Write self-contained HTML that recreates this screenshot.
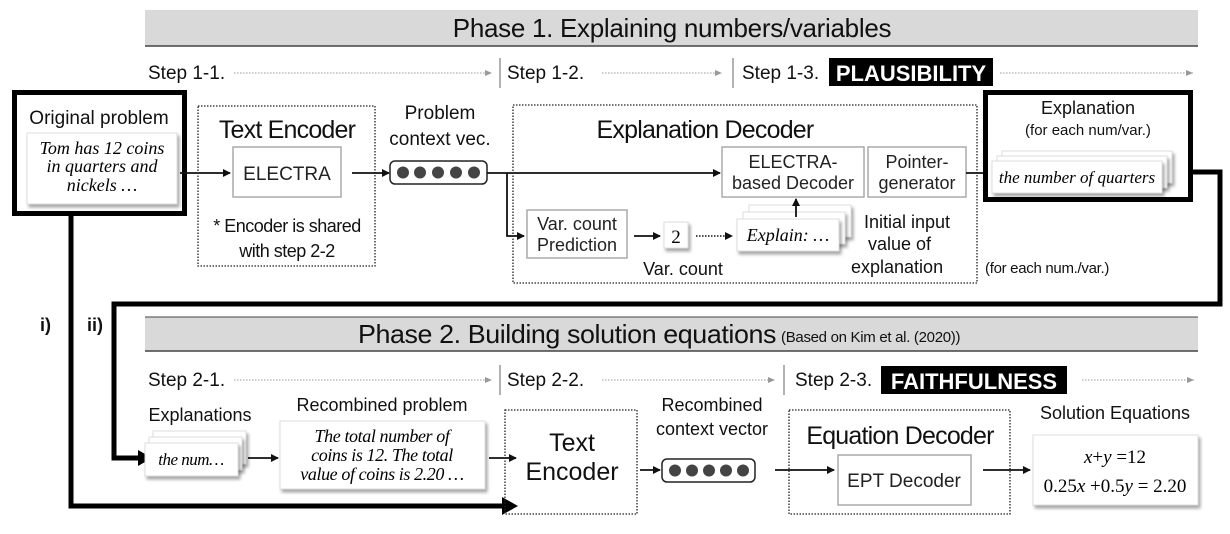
<!DOCTYPE html>
<html><head><meta charset="utf-8"><style>
html,body{margin:0;padding:0;background:#fff;}
svg{display:block;font-family:"Liberation Sans","NanumGothic",sans-serif;}
.s{font-family:"Liberation Serif",serif;font-style:italic;}
</style></head><body>
<svg width="1230" height="534" viewBox="0 0 1230 534" xmlns="http://www.w3.org/2000/svg">
<defs>
<marker id="a" markerWidth="8" markerHeight="8" refX="7" refY="4" orient="auto" markerUnits="userSpaceOnUse"><path d="M0,0 L8,4 L0,8 z" fill="#111"/></marker>
<marker id="g" markerWidth="8" markerHeight="8" refX="7" refY="4" orient="auto" markerUnits="userSpaceOnUse"><path d="M0,1 L7,4 L0,7 z" fill="#999"/></marker>
<filter id="sh" x="-10%" y="-10%" width="130%" height="140%"><feDropShadow dx="2" dy="3" stdDeviation="1.5" flood-color="#000" flood-opacity="0.35"/></filter>
</defs>

<!-- Phase 1 banner -->
<rect x="145" y="10" width="1053" height="36" fill="#d9d9d9"/>
<line x1="145" y1="46" x2="1198" y2="46" stroke="#444" stroke-width="1.5"/>
<text x="672" y="37" font-size="26" text-anchor="middle" fill="#111" letter-spacing="-0.3">Phase 1. Explaining numbers/variables</text>

<!-- Step row 1 -->
<text x="148" y="79" font-size="19" fill="#111">Step 1-1.</text>
<line x1="234" y1="73" x2="492" y2="73" stroke="#999" stroke-dasharray="1.5,1.5" marker-end="url(#g)"/>
<line x1="500" y1="58" x2="500" y2="88" stroke="#666"/>
<text x="507" y="79" font-size="19" fill="#111">Step 1-2.</text>
<line x1="602" y1="73" x2="722" y2="73" stroke="#999" stroke-dasharray="1.5,1.5" marker-end="url(#g)"/>
<line x1="733" y1="58" x2="733" y2="88" stroke="#666"/>
<text x="742" y="79" font-size="19" fill="#111">Step 1-3.</text>
<rect x="829" y="58" width="164" height="28" fill="#000"/>
<text x="911" y="81" font-size="22" font-weight="bold" fill="#fff" text-anchor="middle">PLAUSIBILITY</text>
<line x1="1000" y1="73" x2="1193" y2="73" stroke="#999" stroke-dasharray="1.5,1.5" marker-end="url(#g)"/>

<!-- Original problem -->
<rect x="14.5" y="92.5" width="170" height="121" fill="#fff" stroke="#000" stroke-width="5"/>
<text x="99" y="124" font-size="19" text-anchor="middle" fill="#111">Original problem</text>
<rect x="27" y="133" width="150" height="71" fill="#fff" stroke="#ddd" filter="url(#sh)"/>
<text class="s" x="102" y="154" font-size="18" text-anchor="middle">Tom has 12 coins</text>
<text class="s" x="102" y="172" font-size="18" text-anchor="middle">in quarters and</text>
<text class="s" x="102" y="191" font-size="18" text-anchor="middle">nickels …</text>
<line x1="180" y1="173" x2="230" y2="173" stroke="#111" stroke-width="1.8" marker-end="url(#a)"/>

<!-- Text Encoder 1 -->
<rect x="198" y="106" width="177" height="160" fill="none" stroke="#222" stroke-dasharray="1.5,1.5" stroke-width="1.3"/>
<text x="287" y="138" font-size="25" text-anchor="middle" fill="#111" letter-spacing="-0.8">Text Encoder</text>
<rect x="233" y="147" width="108" height="50" fill="#fff" stroke="#aaa" stroke-width="1.5"/>
<text x="287" y="180" font-size="19" text-anchor="middle" fill="#222">ELECTRA</text>
<text x="287" y="232" font-size="18" text-anchor="middle" fill="#111" letter-spacing="-0.5">* Encoder is shared</text>
<text x="287" y="257" font-size="18" text-anchor="middle" fill="#111" letter-spacing="-0.5">with step 2-2</text>
<line x1="352" y1="173" x2="389" y2="173" stroke="#111" stroke-width="1.8" marker-end="url(#a)"/>

<!-- context vec -->
<text x="440" y="119" font-size="19" text-anchor="middle" fill="#111">Problem</text>
<text x="440" y="145" font-size="19" text-anchor="middle" fill="#111">context vec.</text>
<rect x="390" y="161" width="97" height="23" rx="5" fill="#fff" stroke="#222" stroke-width="1.5"/>
<g fill="#444"><circle cx="403" cy="172.5" r="6"/><circle cx="420" cy="172.5" r="6"/><circle cx="438" cy="172.5" r="6"/><circle cx="456" cy="172.5" r="6"/><circle cx="474" cy="172.5" r="6"/></g>
<line x1="487" y1="173" x2="720" y2="173" stroke="#111" stroke-width="1.8" marker-end="url(#a)"/>
<polyline points="507,173 507,236 524,236" fill="none" stroke="#111" stroke-width="1.8" marker-end="url(#a)"/>

<!-- Explanation Decoder -->
<rect x="513" y="105" width="464" height="178" fill="none" stroke="#222" stroke-dasharray="1.5,1.5" stroke-width="1.3"/>
<text x="705" y="138" font-size="25" text-anchor="middle" fill="#111" letter-spacing="-0.8">Explanation Decoder</text>
<rect x="722" y="147" width="142" height="50" fill="#fff" stroke="#aaa" stroke-width="1.5"/>
<text x="793" y="168" font-size="18" text-anchor="middle" fill="#222">ELECTRA-</text>
<text x="793" y="189" font-size="18" text-anchor="middle" fill="#222">based Decoder</text>
<rect x="868" y="147" width="98" height="50" fill="#fff" stroke="#aaa" stroke-width="1.5"/>
<text x="917" y="168" font-size="18" text-anchor="middle" fill="#222">Pointer-</text>
<text x="917" y="189" font-size="18" text-anchor="middle" fill="#222">generator</text>
<line x1="966" y1="173" x2="990" y2="173" stroke="#111" stroke-width="1.8" marker-end="url(#a)"/>

<rect x="527" y="210" width="100" height="48" fill="#fff" stroke="#aaa" stroke-width="1.5"/>
<text x="577" y="230" font-size="18" text-anchor="middle" fill="#222">Var. count</text>
<text x="577" y="251" font-size="18" text-anchor="middle" fill="#222">Prediction</text>
<line x1="634" y1="236" x2="660" y2="236" stroke="#111" stroke-width="1.8" marker-end="url(#a)"/>
<rect x="664" y="222" width="24" height="26" fill="#fff" stroke="#ddd" filter="url(#sh)"/>
<text x="676" y="243" font-size="19" text-anchor="middle" font-family="Liberation Serif,serif">2</text>
<line x1="696" y1="236" x2="732" y2="236" stroke="#111" stroke-width="1.5" stroke-dasharray="1.5,1.5" marker-end="url(#a)"/>
<text x="683" y="275" font-size="18" text-anchor="middle" fill="#111">Var. count</text>
<rect x="749" y="205" width="102" height="32" fill="#fff" stroke="#ddd" filter="url(#sh)"/>
<rect x="743" y="212" width="102" height="32" fill="#fff" stroke="#ddd" filter="url(#sh)"/>
<rect x="737" y="219" width="102" height="32" fill="#fff" stroke="#ddd" filter="url(#sh)"/>
<text class="s" x="788" y="241" font-size="18" text-anchor="middle">Explain: …</text>
<line x1="796" y1="217" x2="796" y2="199" stroke="#111" stroke-width="1.8" marker-end="url(#a)"/>
<text x="864" y="228" font-size="18" fill="#111">Initial input</text>
<text x="868" y="250" font-size="18" fill="#111">value of</text>
<text x="851" y="273" font-size="18" fill="#111">explanation</text>
<text x="985" y="273" font-size="15" fill="#111" letter-spacing="-0.3">(for each num./var.)</text>

<!-- Explanation output -->
<rect x="985.5" y="92.5" width="205" height="107" fill="#fff" stroke="#000" stroke-width="5"/>
<text x="1088" y="114" font-size="18" text-anchor="middle" fill="#111">Explanation</text>
<text x="1088" y="135" font-size="15" text-anchor="middle" fill="#111">(for each num/var.)</text>
<rect x="1002" y="151" width="170" height="32" fill="#fff" stroke="#ddd" filter="url(#sh)"/>
<rect x="997" y="156" width="170" height="32" fill="#fff" stroke="#ddd" filter="url(#sh)"/>
<rect x="992" y="161" width="170" height="32" fill="#fff" stroke="#ddd" filter="url(#sh)"/>
<text class="s" x="1077" y="183" font-size="17" text-anchor="middle">the number of quarters</text>

<!-- Thick feedback line ii -->
<polyline points="1190,172 1220,172 1220,304 114,304 114,458 140,458" fill="none" stroke="#000" stroke-width="5"/>
<path d="M138,450 L152,458 L138,466 z" fill="#000"/>
<!-- Thick line i -->
<polyline points="71,216 71,506 505,506" fill="none" stroke="#000" stroke-width="5"/>
<path d="M502,497 L518,506 L502,515 z" fill="#000"/>
<text x="40" y="331" font-size="18" font-weight="bold" fill="#111">i)</text>
<text x="87" y="331" font-size="18" font-weight="bold" fill="#111">ii)</text>

<!-- Phase 2 banner -->
<rect x="145" y="317" width="1053" height="34" fill="#d9d9d9"/>
<line x1="145" y1="317" x2="1198" y2="317" stroke="#444" stroke-width="1"/>
<line x1="145" y1="351" x2="1198" y2="351" stroke="#444" stroke-width="1.5"/>
<text x="358" y="343" font-size="26" fill="#111" letter-spacing="-0.4" textLength="418" lengthAdjust="spacingAndGlyphs">Phase 2. Building solution equations</text>
<text x="781" y="342" font-size="15" fill="#111" letter-spacing="-0.3">(Based on Kim et al. (2020))</text>

<!-- Step row 2 -->
<text x="148" y="386" font-size="19" fill="#111">Step 2-1.</text>
<line x1="234" y1="380" x2="492" y2="380" stroke="#999" stroke-dasharray="1.5,1.5" marker-end="url(#g)"/>
<line x1="500" y1="365" x2="500" y2="395" stroke="#666"/>
<text x="507" y="386" font-size="19" fill="#111">Step 2-2.</text>
<line x1="602" y1="380" x2="775" y2="380" stroke="#999" stroke-dasharray="1.5,1.5" marker-end="url(#g)"/>
<line x1="784" y1="365" x2="784" y2="395" stroke="#666"/>
<text x="795" y="386" font-size="19" fill="#111">Step 2-3.</text>
<rect x="881" y="366" width="186" height="28" fill="#000"/>
<text x="974" y="389" font-size="22" font-weight="bold" fill="#fff" text-anchor="middle">FAITHFULNESS</text>
<line x1="1082" y1="380" x2="1194" y2="380" stroke="#999" stroke-dasharray="1.5,1.5" marker-end="url(#g)"/>

<!-- Explanations cards -->
<text x="200" y="421" font-size="18" text-anchor="middle" fill="#111">Explanations</text>
<rect x="153" y="431" width="93" height="33" fill="#fff" stroke="#ddd" filter="url(#sh)"/>
<rect x="149" y="437" width="93" height="33" fill="#fff" stroke="#ddd" filter="url(#sh)"/>
<rect x="145" y="443" width="93" height="33" fill="#fff" stroke="#ddd" filter="url(#sh)"/>
<text class="s" x="191" y="465" font-size="17" text-anchor="middle" letter-spacing="-0.5">the num…</text>
<line x1="248" y1="458" x2="278" y2="458" stroke="#111" stroke-width="1.8" marker-end="url(#a)"/>

<!-- Recombined problem -->
<text x="382" y="411" font-size="18" text-anchor="middle" fill="#111">Recombined problem</text>
<rect x="280" y="421" width="205" height="68" fill="#fff" stroke="#ddd" filter="url(#sh)"/>
<text class="s" x="382" y="442" font-size="18" text-anchor="middle" letter-spacing="-0.4">The total number of</text>
<text class="s" x="382" y="461" font-size="18" text-anchor="middle" letter-spacing="-0.4">coins is 12. The total</text>
<text class="s" x="382" y="480" font-size="18" text-anchor="middle" letter-spacing="-0.4">value of coins is 2.20 …</text>
<line x1="489" y1="458" x2="516" y2="458" stroke="#111" stroke-width="1.8" marker-end="url(#a)"/>

<!-- Text Encoder 2 -->
<rect x="505" y="410" width="132" height="104" fill="none" stroke="#222" stroke-dasharray="1.5,1.5" stroke-width="1.3"/>
<text x="572" y="451" font-size="25" text-anchor="middle" fill="#111">Text</text>
<text x="572" y="480" font-size="25" text-anchor="middle" fill="#111">Encoder</text>
<line x1="640" y1="470" x2="660" y2="470" stroke="#111" stroke-width="1.8" marker-end="url(#a)"/>

<!-- Recombined vec -->
<text x="712" y="411" font-size="18" text-anchor="middle" fill="#111">Recombined</text>
<text x="712" y="435" font-size="18" text-anchor="middle" fill="#111">context vector</text>
<rect x="662" y="459" width="93" height="23" rx="5" fill="#fff" stroke="#222" stroke-width="1.5"/>
<g fill="#444"><circle cx="675" cy="470.5" r="6"/><circle cx="692" cy="470.5" r="6"/><circle cx="709" cy="470.5" r="6"/><circle cx="726" cy="470.5" r="6"/><circle cx="743" cy="470.5" r="6"/></g>
<line x1="775" y1="470" x2="834" y2="470" stroke="#111" stroke-width="1.8" marker-end="url(#a)"/>

<!-- Equation Decoder -->
<rect x="789" y="410" width="221" height="104" fill="none" stroke="#222" stroke-dasharray="1.5,1.5" stroke-width="1.3"/>
<text x="900" y="444" font-size="25" text-anchor="middle" fill="#111" letter-spacing="-0.8">Equation Decoder</text>
<rect x="838" y="455" width="133" height="50" fill="#fff" stroke="#aaa" stroke-width="1.5"/>
<text x="904" y="487" font-size="19" text-anchor="middle" fill="#222">EPT Decoder</text>
<line x1="983" y1="470" x2="1030" y2="470" stroke="#111" stroke-width="1.8" marker-end="url(#a)"/>

<!-- Solution -->
<text x="1115" y="419" font-size="18" text-anchor="middle" fill="#111">Solution Equations</text>
<rect x="1033" y="435" width="165" height="70" fill="#fff" stroke="#ddd" filter="url(#sh)"/>
<text x="1115" y="463" font-size="19" text-anchor="middle" font-family="Liberation Serif,serif"><tspan font-style="italic">x</tspan>+<tspan font-style="italic">y</tspan> =12</text>
<text x="1115" y="492" font-size="19" text-anchor="middle" font-family="Liberation Serif,serif">0.25<tspan font-style="italic">x</tspan> +0.5<tspan font-style="italic">y</tspan> = 2.20</text>
</svg>
</body></html>
